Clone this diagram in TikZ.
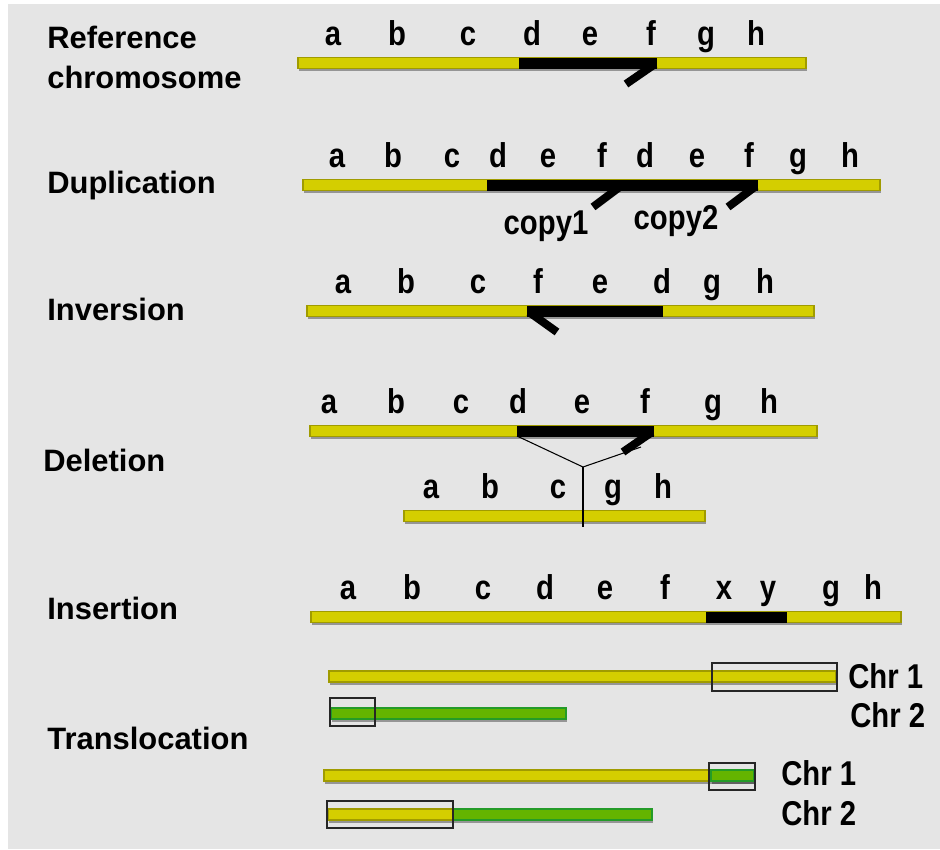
\documentclass[tikz,border=0pt]{standalone}
\usepackage{fontspec}
\setmainfont{Liberation Sans}
\newfontfamily\genefont[FakeStretch=0.85]{Liberation Sans}
\usetikzlibrary{shadows}

\definecolor{panelgray}{RGB}{229,229,229}
\definecolor{chryellow}{RGB}{212,206,0}
\definecolor{chryedge}{RGB}{160,155,0}
\definecolor{chrgreen}{RGB}{100,180,0}
\definecolor{chrgedge}{RGB}{36,155,40}

\begin{document}
\begin{tikzpicture}[
    x=0.02cm, y=-0.02cm,
    every node/.style={inner sep=0pt},
    rowtitle/.style={anchor=base west, font=\fontsize{17.6}{20}\selectfont\bfseries},
    gene/.style={anchor=base, font=\genefont\fontsize{19.6}{20}\selectfont\bfseries},
    chrom/.style={draw=chryedge, fill=chryellow, line width=0.6pt,
        drop shadow={shadow xshift=0.5pt, shadow yshift=-1.5pt, opacity=0.35, fill=black}},
    chromtwo/.style={chrom, draw=chrgedge, fill=chrgreen},
    segment/.style={fill=black},
    hook/.style={draw=black, line width=4.6pt},
    breakbox/.style={draw=black!85, line width=0.7pt},
]

% === Background panel ===
\fill[white] (0,0) rectangle (940,849);
\fill[panelgray] (8,4) rectangle (940,849);
\useasboundingbox (0,0) rectangle (940,849);

% === Reference chromosome ===
\def\yrow{63}
\node[rowtitle] (reftitle) at (47,48) {Reference};
\node[rowtitle] (reftitletwo) at (47,88) {chromosome};
\foreach \g/\xg [count=\i] in {a/333, b/397, c/468, d/532, e/590, f/651, g/706, h/756}
    \node[gene] (ref\i) at (\xg,{\yrow-18}) {\g};
\path[chrom] (298,{\yrow-5.5}) rectangle (806,{\yrow+5.5});
\fill[segment] (519,{\yrow-5.5}) rectangle (657,{\yrow+5.5});
\draw[hook] (655,{\yrow+1}) -- (626,{\yrow+21});

% === Duplication: d-e-f twice in a row ===
\def\yrow{185}
\node[rowtitle] (duptitle) at (47,193) {Duplication};
\foreach \g/\xg [count=\i] in {a/337, b/393, c/452, d/498, e/548, f/602,
                               d/645, e/697, f/749, g/798, h/850}
    \node[gene] (dup\i) at (\xg,{\yrow-18}) {\g};
\path[chrom] (303,{\yrow-5.5}) rectangle (880,{\yrow+5.5});
\fill[segment] (487,{\yrow-5.5}) rectangle (758,{\yrow+5.5});
\draw[hook] (621,{\yrow+1}) -- (593,{\yrow+22});
\draw[hook] (756,{\yrow+1}) -- (728,{\yrow+22});
\node[gene] (copyone) at (546,234) {copy1};
\node[gene] (copytwo) at (676,229) {copy2};

% === Inversion: d-e-f reversed ===
\def\yrow{311}
\node[rowtitle] (invtitle) at (47,320) {Inversion};
\foreach \g/\xg [count=\i] in {a/343, b/406, c/478, f/538, e/600, d/662, g/712, h/765}
    \node[gene] (inv\i) at (\xg,{\yrow-18}) {\g};
\path[chrom] (307,{\yrow-5.5}) rectangle (814,{\yrow+5.5});
\fill[segment] (527,{\yrow-5.5}) rectangle (663,{\yrow+5.5});
\draw[hook] (529,{\yrow+1}) -- (557,{\yrow+21});

% === Deletion: d-e-f cut out ===
\def\yrow{431}
\node[rowtitle] (deltitle) at (43,471) {Deletion};
\foreach \g/\xg [count=\i] in {a/329, b/396, c/461, d/518, e/582, f/645, g/713, h/769}
    \node[gene] (del\i) at (\xg,{\yrow-18}) {\g};
\path[chrom] (310,{\yrow-5.5}) rectangle (817,{\yrow+5.5});
\fill[segment] (517,{\yrow-5.5}) rectangle (654,{\yrow+5.5});
\draw[hook] (652,{\yrow+1}) -- (623,{\yrow+21});

% shortened chromosome below
\def\ylow{516}
\foreach \g/\xg [count=\i] in {a/431, b/490, c/558, g/613, h/663}
    \node[gene] (short\i) at (\xg,{\ylow-18}) {\g};
\path[chrom] (404,{\ylow-5.5}) rectangle (705,{\ylow+5.5});

% joining lines
\coordinate (delleft) at (517,436);
\coordinate (delright) at (641,447);
\coordinate (delsplit) at (583,467);
\coordinate (delfoot) at (583,527);
\draw[line width=0.6pt] (delleft) -- (delsplit) -- (delright);
\draw[line width=0.6pt] (delsplit) -- (delfoot);

% === Insertion: x-y added between f and g ===
\def\yrow{617}
\node[rowtitle] (institle) at (47,619) {Insertion};
\foreach \g/\xg [count=\i] in {a/348, b/412, c/483, d/545, e/605, f/665,
                               x/724, y/768, g/831, h/873}
    \node[gene] (ins\i) at (\xg,{\yrow-18}) {\g};
\path[chrom] (311,{\yrow-5.5}) rectangle (901,{\yrow+5.5});
\fill[segment] (706,{\yrow-5.5}) rectangle (787,{\yrow+5.5});

% === Translocation: ends swapped between Chr 1 and Chr 2 ===
\node[rowtitle] (tratitle) at (47,749) {Translocation};

% before
\path[chrom] (329,671) rectangle (836,682);
\path[chromtwo] (331,708) rectangle (566,719);
\draw[breakbox] (712,663) rectangle (837,691);
\draw[breakbox] (330,698) rectangle (375,726);
\node[gene, anchor=base west] (chronebefore) at (848,688) {Chr 1};
\node[gene, anchor=base west] (chrtwobefore) at (850,727) {Chr 2};

% after
\path[chrom] (324,770) rectangle (754,781);
\path[chromtwo] (711,770) rectangle (754,781);
\path[chromtwo] (453,809) rectangle (652,820);
\path[chrom] (328,809) rectangle (453,820);
\draw[breakbox] (709,763) rectangle (755,790);
\draw[breakbox] (327,801) rectangle (453,828);
\node[gene, anchor=base west] (chroneafter) at (781,785) {Chr 1};
\node[gene, anchor=base west] (chrtwoafter) at (781,825) {Chr 2};

\end{tikzpicture}
\end{document}
